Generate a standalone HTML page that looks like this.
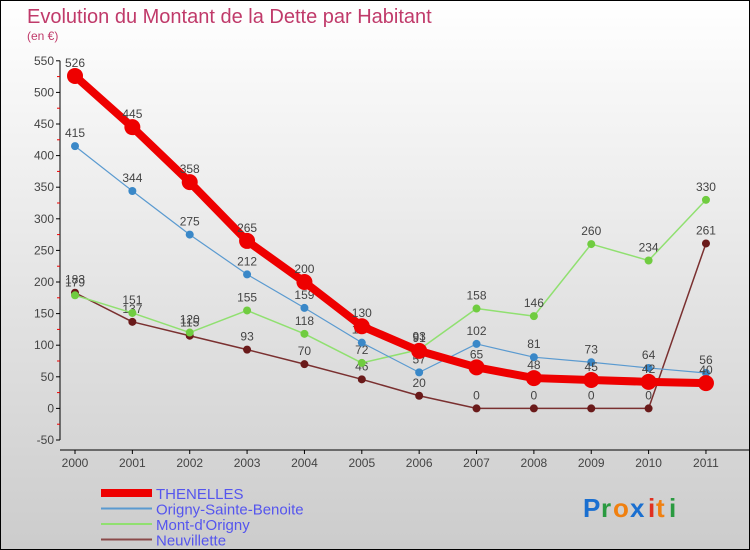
<!DOCTYPE html>
<html><head><meta charset="utf-8"><style>
body{margin:0}
#c{width:750px;height:550px;position:relative;box-sizing:border-box;border:1px solid #000;background:linear-gradient(#fff,#ccc);font-family:"Liberation Sans",sans-serif;overflow:hidden}
</style></head><body>
<div id="c">
<svg id="s" width="748" height="548" xmlns="http://www.w3.org/2000/svg">
<text x="26" y="22" font-size="20" fill="#c03a6a">Evolution du Montant de la Dette par Habitant</text>
<text x="26" y="39" font-size="12" fill="#c03a6a">(en €)</text>
<g id="axes"></g><g id="series"></g><g id="legend"></g>
<g font-size="26" font-family="Liberation Sans, sans-serif" font-weight="bold">
<text x="582" y="516" fill="#1a6fd0">P</text><text x="600" y="516" fill="#2a9a40">r</text><text x="612" y="516" fill="#f08010">o</text><text x="629" y="516" fill="#1a6fd0">x</text><text x="647" y="516" fill="#e03020">i</text><text x="655" y="516" fill="#f08010">t</text><text x="668" y="516" fill="#2a9a40">i</text>
</g>
</svg>
</div>
<script>
const years=[2000,2001,2002,2003,2004,2005,2006,2007,2008,2009,2010,2011];
const yTicks=[550,500,450,400,350,300,250,200,150,100,50,0,-50];
const thenelles=[526,445,358,265,200,130,91,65,48,45,42,40];
const origny=[415,344,275,212,159,104,57,102,81,73,64,56];
const mont=[179,151,120,155,118,72,93,158,146,260,234,330];
const neuv=[183,137,115,93,70,46,20,0,0,0,0,261];
const NS="http://www.w3.org/2000/svg";
function X(i){return 74+i*57.36;}
function Y(v){return 407.4-v*0.632;}
function mk(t,a,p){const e=document.createElementNS(NS,t);for(const k in a)e.setAttribute(k,a[k]);p.appendChild(e);return e;}
const ax=document.getElementById('axes');
let yl=mk('line',{x1:59,y1:Y(550),x2:59,y2:Y(-50),stroke:'#000'},ax);


let xl=mk('line',{x1:59,y1:449,x2:748,y2:449,stroke:'#000'},ax);


yTicks.forEach(v=>{
 mk('line',{x1:55,y1:Y(v),x2:59,y2:Y(v),stroke:'#000'},ax);
 if(v>-50) mk('line',{x1:56,y1:Y(v-25),x2:59,y2:Y(v-25),stroke:'#e00'},ax);
 const t=mk('text',{x:53,y:Y(v)+4,'font-size':12,'text-anchor':'end',fill:'#444'},ax);
 t.textContent=v;
 
 
});
years.forEach((y,i)=>{
 mk('line',{x1:X(i),y1:449,x2:X(i),y2:453,stroke:'#000'},ax);
 const t=mk('text',{x:X(i),y:466,'font-size':12,'text-anchor':'middle',fill:'#444'},ax);
 t.textContent=y;
 
 
});
const sg=document.getElementById('series');
function draw(vals,color,w,r,name,dot){
 const g=mk('g',{},sg);
 
 
 mk('polyline',{points:vals.map((v,i)=>X(i)+','+Y(v)).join(' '),fill:'none',stroke:color,'stroke-width':w,'stroke-linejoin':'round'},g);
 vals.forEach((v,i)=>{
  const c=mk('circle',{cx:X(i),cy:Y(v),r:r,fill:dot},g);
  
  
  const t=mk('text',{x:X(i),y:Y(v)-9,'font-size':12,'text-anchor':'middle',fill:'#444'},g);
  t.textContent=v;
 });
}
draw(neuv,'#7a3030',1.5,4,'series-neuvillette','#6a1a1a');
draw(mont,'#90e070',1.5,4,'series-mont-d-origny','#70cc40');
draw(origny,'#5a9ad0',1.2,4,'series-origny-sainte-benoite','#3a88c8');
draw(thenelles,'#ee0000',8,8,'series-thenelles','#ee0000');
const lg=document.getElementById('legend');
[['THENELLES','#ee0000',8],['Origny-Sainte-Benoite','#5a9ad0',2],['Mont-d\'Origny','#90e070',2],['Neuvillette','#8a4a4a',2]].forEach((e,i)=>{
 const g=mk('g',{},lg);
 
 
 const y=492+i*15.5;
 mk('line',{x1:100,y1:y,x2:151,y2:y,stroke:e[1],'stroke-width':e[2]},g);
 const t=mk('text',{x:155,y:y+6,'font-size':15,fill:'#5555ee'},g);
 t.textContent=e[0];
});
</script>
</body></html>
